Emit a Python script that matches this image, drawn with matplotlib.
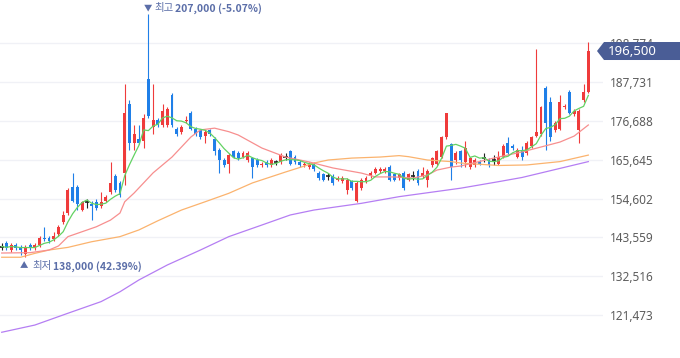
import numpy as np
import pandas as pd
import matplotlib
matplotlib.use("Agg")
import matplotlib.pyplot as plt
from matplotlib.patches import Polygon

# daily candles (won)
opens = [141000, 142000, 140000, 141500, 141000, 139000, 141500, 140500, 141500, 143500,
         143500, 143000, 144500, 148000, 150500, 158000, 158000, 151500, 153500, 153000,
         153500, 152500, 154000, 156500, 161000, 159000, 162000, 181500, 170500, 171500,
         171000, 188500, 175000, 177000, 175500, 175500, 184000, 174500, 173500, 176500,
         179000, 174500, 174000, 172500, 174000, 171500, 168500, 165500, 164500, 168000,
         167500, 166500, 165500, 166000, 165500, 164000, 165000, 164000, 165000, 165000,
         166500, 168000, 166500, 165000, 164000, 163500, 164500, 162000, 161500, 161000,
         161000, 160000, 159500, 157000, 159500, 154000, 157500, 159500, 161000, 162000,
         162500, 162500, 163500, 161500, 160500, 162000, 160000, 161000, 162500, 161000,
         160000, 164000, 164500, 166500, 172000, 170000, 165500, 168000, 165000, 163500,
         164000, 165000, 166000, 165500, 165500, 164500, 166500, 170500, 169500, 166500,
         168500, 167500, 169500, 172500, 173000, 186000, 182000, 174000, 174500, 180500,
         185000, 178500, 174000, 182500, 185000]
highs = [142000, 142500, 142000, 142000, 141500, 141500, 142000, 142000, 144000, 146500,
         144000, 145000, 147000, 151000, 157500, 162000, 158500, 154000, 154500, 154000,
         154500, 156500, 155500, 165000, 161500, 159500, 187000, 182500, 175500, 175500,
         178500, 207000, 187000, 177500, 181500, 180500, 184500, 175000, 175500, 178000,
         179500, 175000, 174500, 174000, 174500, 172000, 169000, 166000, 167500, 168500,
         168000, 168000, 168000, 166500, 166000, 165000, 165500, 166000, 165500, 167500,
         167500, 168500, 167000, 165500, 165000, 165000, 165000, 162500, 162000, 162000,
         161500, 161000, 161000, 160500, 160000, 159500, 160500, 161000, 162500, 163500,
         163500, 163500, 164000, 162000, 162000, 162500, 162000, 162500, 163000, 163500,
         163000, 166500, 168500, 172500, 179000, 170500, 168000, 168500, 171000, 166500,
         166000, 165500, 167500, 166000, 167000, 168000, 170000, 172000, 170000, 169000,
         169500, 171000, 172500, 197000, 181000, 186500, 183500, 176500, 184000, 181500,
         185500, 180000, 180000, 187000, 199000]
lows = [140000, 140000, 139500, 140000, 138500, 138000, 140000, 140000, 141000, 142500,
        142000, 142500, 144000, 147500, 150000, 153500, 151500, 151000, 152000, 148500,
        151500, 152000, 153500, 156000, 156500, 155000, 158500, 168500, 168500, 170000,
        169000, 177500, 173000, 175000, 175000, 175000, 175000, 172500, 173000, 176000,
        174000, 172500, 171500, 170500, 172500, 167000, 162000, 163500, 162000, 166000,
        165500, 166000, 165000, 160500, 163500, 163500, 163500, 163500, 164000, 164500,
        165500, 164000, 164500, 163500, 163500, 163000, 162500, 160000, 159500, 160000,
        158500, 159500, 159000, 156000, 157000, 153500, 157000, 159000, 160500, 161500,
        162000, 162000, 159500, 159500, 160000, 157000, 159500, 160000, 158500, 160500,
        158000, 163500, 164000, 166000, 171500, 160000, 164500, 163500, 163500, 163000,
        163500, 164000, 165000, 163500, 164000, 164000, 166000, 167000, 168500, 166000,
        165500, 167000, 169000, 172000, 172500, 168500, 171000, 173500, 174000, 180000,
        178500, 178000, 170500, 182000, 184500]
closes = [141000, 140500, 141500, 140500, 140000, 141000, 140500, 141500, 143500, 143000,
          142500, 144000, 146500, 150000, 157000, 154000, 153000, 153500, 153500, 152500,
          152000, 153500, 155000, 159000, 157000, 155500, 179000, 170500, 173000, 170500,
          177500, 178000, 177000, 175500, 179500, 180000, 175500, 173000, 175000, 177000,
          174500, 173000, 172000, 173500, 173000, 168000, 165500, 164000, 167000, 166500,
          166000, 167500, 167500, 163500, 164000, 164500, 164000, 165500, 165000, 167000,
          166500, 164500, 165000, 164000, 164500, 164500, 163000, 160500, 160000, 161000,
          159000, 160500, 160500, 160000, 157500, 159000, 160000, 160500, 162000, 163000,
          163000, 163000, 160000, 160000, 161500, 157500, 161500, 161000, 159000, 162000,
          162500, 166000, 168000, 172000, 179000, 163500, 167500, 165500, 169000, 166000,
          165500, 164500, 166000, 164000, 165500, 166500, 169500, 167500, 169000, 168500,
          166500, 170500, 172000, 173500, 180500, 176000, 172000, 176000, 182000, 181000,
          179000, 179500, 179500, 185000, 196500]

# longer moving averages at some candles
ma20_idx = [0, 6, 10, 12, 14, 17, 20, 23, 25, 26, 28, 32, 36, 40, 42, 45, 48, 50, 55, 60,
            65, 70, 76, 79, 83, 87, 90, 92, 95, 97, 104, 110, 114, 118, 121, 124]
ma20_val = [139150, 139250, 140000, 141150, 143800, 145200, 146600, 148500, 150500, 153700,
            156200, 161900, 166400, 172100, 174100, 174600, 173600, 172650, 168950, 166400,
            165000, 163300, 161850, 160750, 160750, 160450, 161300, 162700, 163550, 163850,
            166100, 167850, 169250, 170650, 172350, 175500]
ma60_idx = [0, 4, 7, 10, 14, 19, 25, 29, 33, 38, 43, 48, 53, 60, 66, 69, 74, 80, 84, 86,
            90, 95, 97, 105, 111, 118, 124]
ma60_val = [137950, 137950, 139050, 140000, 140750, 142350, 143800, 145700, 148300, 151350,
            153700, 156100, 159050, 162150, 164700, 165550, 166100, 166400, 166800, 166500,
            165550, 165100, 164700, 164000, 164150, 165100, 166950]
ma120_idx = [0, 7, 14, 21, 25, 29, 35, 42, 48, 55, 61, 66, 76, 84, 97, 105, 110, 124]
ma120_val = [116650, 118700, 122050, 125350, 128150, 131500, 135750, 140000, 143800, 147100,
             149950, 151350, 153250, 155150, 157550, 159400, 160600, 165100]

ytick_vals = [121473, 132516, 143559, 154602, 165645, 176688, 187731, 198774]

RED = "#ef3b3b"
BLUE = "#1f7fe8"
W, H = 680, 358

fig = plt.figure(figsize=(W / 100, H / 100), dpi=100)
ax = fig.add_axes([0, 0, 603 / W, 1])

o = np.array(opens); h = np.array(highs); l = np.array(lows); c = np.array(closes)
x = np.arange(len(c))
flat = c == o
cols = np.where(c > o, RED, np.where(c < o, BLUE, "#222222"))

ax.vlines(x, l, h, colors=cols, lw=0.8, zorder=3)
ax.bar(x[~flat], np.abs(c - o)[~flat], bottom=np.minimum(o, c)[~flat], width=0.62,
       color=cols[~flat], linewidth=0, zorder=4)
ax.hlines(c[flat], x[flat] - 0.45, x[flat] + 0.45, colors="#222222", lw=1.2, zorder=4)

ma5 = pd.Series(closes).rolling(5, min_periods=1).mean()
ax.plot(ma120_idx, ma120_val, color="#b57ef3", lw=0.9, zorder=5)
ax.plot(ma60_idx, ma60_val, color="#fbb36e", lw=0.9, zorder=5)
ax.plot(ma20_idx, ma20_val, color="#f78f8f", lw=0.9, zorder=5)
ax.plot(x, ma5, color="#63d263", lw=0.9, zorder=6)

ax.set_xlim(-0.36, 127.1)
ax.set_ylim(109346, 210981)
for s in ax.spines.values():
    s.set_visible(False)
ax.set_xticks([])
ax.yaxis.tick_right()
ax.set_yticks(ytick_vals)
ax.set_yticklabels([f"{v:,}" for v in ytick_vals], family="Noto Sans")
ax.tick_params(axis="y", length=0, pad=5, labelsize=8.5, labelcolor="#5c5c5c")
ax.grid(axis="y", color="#f0f1f6", lw=1)
ax.set_axisbelow(True)

# highest / lowest markers
kfont = ["Noto Sans CJK KR", "DejaVu Sans"]
acol = "#5b6ea8"
ih = int(np.argmax(highs))
il = int(np.argmin(lows))
last = closes[-1]
hi_txt = f"{highs[ih]:,} ({(last / highs[ih] - 1) * 100:.2f}%)"
lo_txt = f"{lows[il]:,} ({(last / lows[il] - 1) * 100:.2f}%)"
for txt, dx, wt, al, fs in [("▼", 0, "normal", "center", 6), ("최고", 6, "normal", "left", 7.5),
                            (hi_txt, 27, "bold", "left", 7.5)]:
    ax.annotate(txt, xy=(ih, highs[ih]), xytext=(dx, 6), textcoords="offset pixels",
                ha=al, va="center", fontsize=fs, color=acol, fontweight=wt,
                family=kfont, annotation_clip=False)
for txt, dx, wt, al, fs in [("▲", -1, "normal", "center", 6), ("최저", 7, "normal", "left", 7.5),
                            (lo_txt, 28, "bold", "left", 7.5)]:
    ax.annotate(txt, xy=(il, lows[il]), xytext=(dx, -9), textcoords="offset pixels",
                ha=al, va="center", fontsize=fs, color=acol, fontweight=wt,
                family=kfont, annotation_clip=False)

# current price tag
yp = ax.transData.transform((0, last))[1]
pts = [(597, yp), (604, yp + 9), (W, yp + 9), (W, yp - 9), (604, yp - 9)]
fig.add_artist(Polygon([(px / W, py / H) for px, py in pts], closed=True,
                       transform=fig.transFigure, fc="#4a5d96", ec="none", zorder=10))
fig.text(608 / W, yp / H, f"{last:,}", color="white", fontsize=9.5, va="center",
         ha="left", family="Noto Sans", zorder=11)

fig.savefig("out.png", dpi=100)
